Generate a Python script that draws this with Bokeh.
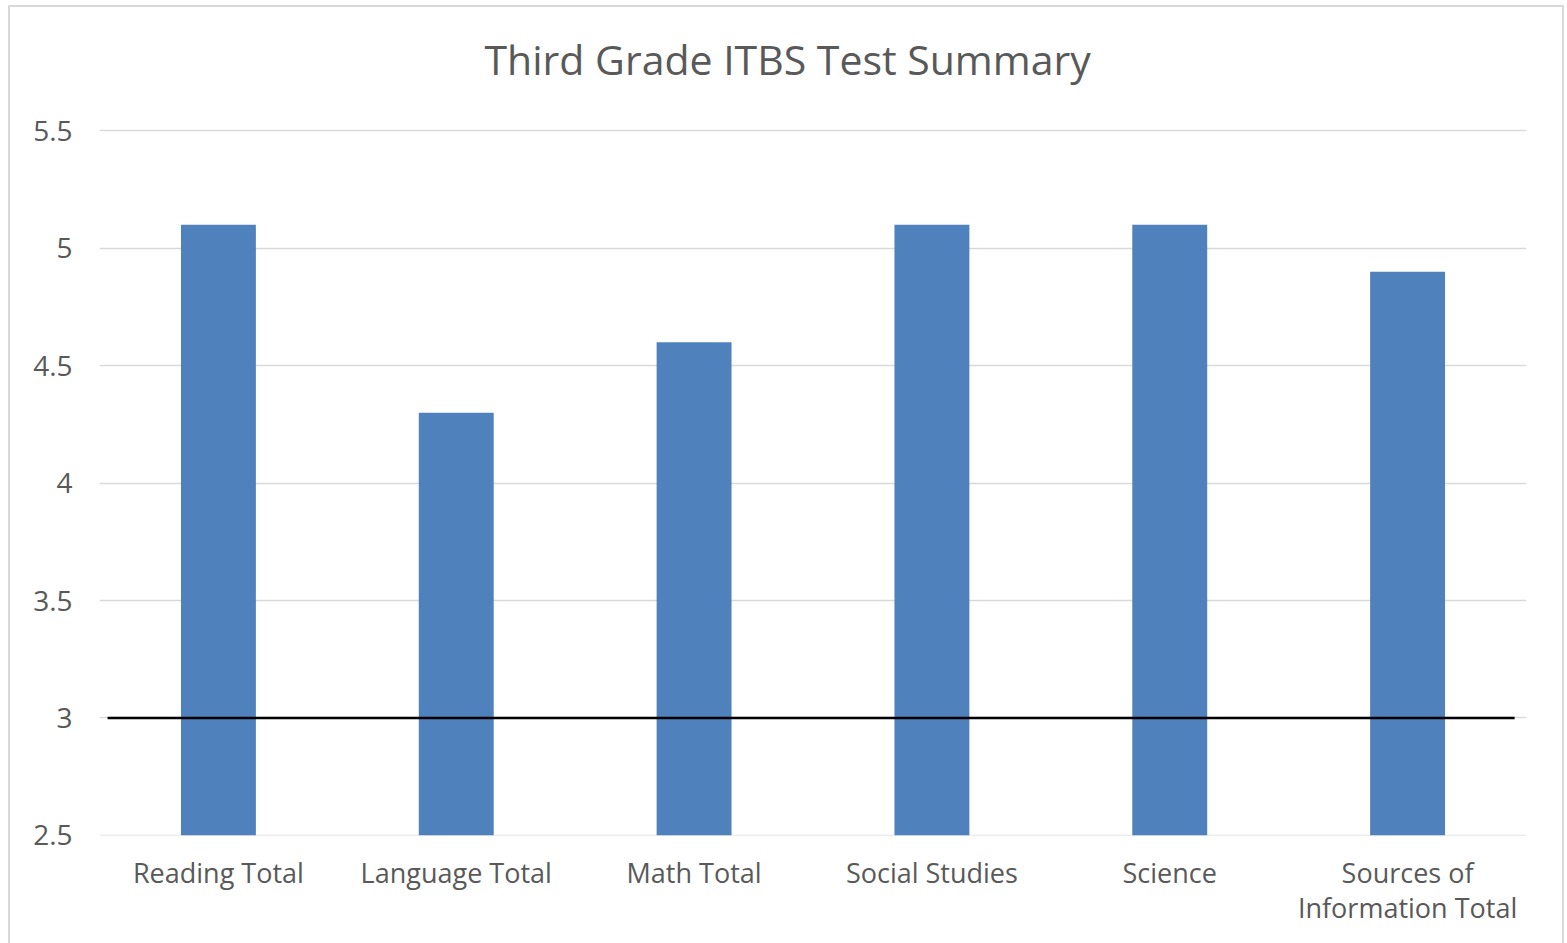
from bokeh.plotting import figure
from bokeh.models import Range1d, FixedTicker, ColumnDataSource, Label
from bokeh.embed import file_html
from bokeh.resources import INLINE

categories = ["Reading Total", "Language Total", "Math Total", "Social Studies", "Science",
              "Sources of Information Total"]
tick_labels = ["Reading Total", "Language Total", "Math Total", "Social Studies", "Science",
               "Sources of\nInformation Total"]
scores = [5.1, 4.3, 4.6, 5.1, 5.1, 4.9]
y_ticks = [2.5, 3, 3.5, 4, 4.5, 5, 5.5]
y_labels = ["2.5", "3", "3.5", "4", "4.5", "5", "5.5"]
benchmark = 3.0
title_text = "Third Grade ITBS Test Summary"

FONT = "Open Sans"
GRAY = "#595959"

positions = list(range(len(categories)))

# frame extends to the top of the canvas so the title label sits inside it;
# the upper end leaves the title band above the 5.5 gridline
p = figure(width=1556, height=938, x_range=Range1d(-0.5, len(categories) - 0.5),
           y_range=Range1d(2.4995, 6.025),
           output_backend="svg", toolbar_location=None,
           min_border_left=89, min_border_right=40, min_border_bottom=110, min_border_top=0)

p.outline_line_color = None
p.styles = {"border": "2px solid #d9d9d9", "border-bottom": "none", "box-sizing": "border-box",
            "margin-left": "8px", "margin-top": "5px"}

src = ColumnDataSource(dict(x=positions, top=scores))
p.vbar(x="x", top="top", bottom=2.5, width=0.315, source=src, fill_color="#4F81BD", line_color=None)

seg = ColumnDataSource(dict(x0=[positions[0] - 0.466], x1=[positions[-1] + 0.45],
                            y0=[benchmark], y1=[benchmark]))
p.segment(x0="x0", y0="y0", x1="x1", y1="y1", source=seg, line_color="black", line_width=2.5)

title = Label(x=385, y=777, x_units="screen", y_units="screen", text=title_text,
              text_font=FONT, text_font_size="41px", text_color=GRAY,
              text_align="left", text_baseline="alphabetic")
p.add_layout(title)

p.xgrid.grid_line_color = None
p.ygrid.grid_line_color = "#d9d9d9"
p.ygrid.grid_line_width = 1.5
p.yaxis.ticker = FixedTicker(ticks=y_ticks)
p.yaxis.major_label_overrides = {t: l for t, l in zip(y_ticks, y_labels)}
p.xaxis.ticker = FixedTicker(ticks=positions)
p.xaxis.major_label_overrides = {i: l for i, l in zip(positions, tick_labels)}

for ax in (p.xaxis, p.yaxis):
    ax.axis_line_color = None
    ax.major_tick_line_color = None
    ax.minor_tick_line_color = None
    ax.major_tick_out = 0
    ax.major_tick_in = 0
    ax.minor_tick_out = 0
    ax.minor_tick_in = 0
    ax.major_label_text_font = FONT
    ax.major_label_text_color = GRAY

p.xaxis.major_label_text_font_size = "27px"
p.xaxis.major_label_text_line_height = 0.95
p.yaxis.major_label_text_font_size = "28px"
p.yaxis.major_label_standoff = 27
p.xaxis.major_label_standoff = 18

open("out.html", "w").write(file_html(p, INLINE))
